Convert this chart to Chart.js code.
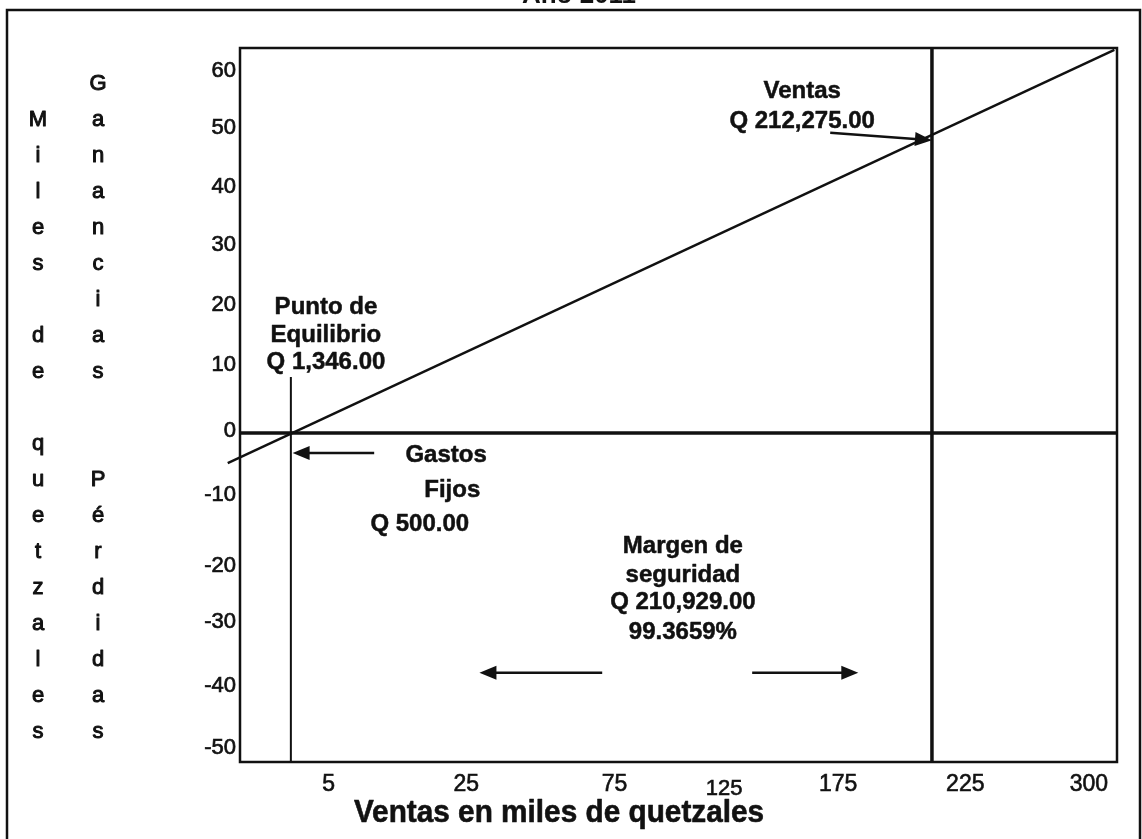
<!DOCTYPE html>
<html lang="es">
<head>
  <meta charset="UTF-8">
  <title>Punto de equilibrio</title>
  <script src="https://cdn.jsdelivr.net/npm/chart.js@4.4.1/dist/chart.umd.min.js"></script>
  <style>
    body { margin: 0; background: #fff; }
    #wrap { width: 1142px; height: 839px; }
  </style>
</head>
<body>
  <div id="wrap"><canvas id="peChart" width="1142" height="839"></canvas></div>

  <script>
    // eje X: etiquetas y su posicion en la escala (la escala del original no es lineal)
    const xTickLabels = ['5', '25', '75', '125', '175', '225', '300'];
    const xTickAt = [1.01, 2.58, 4.27, 5.52, 6.82, 8.27, 9.68];

    // eje Y (miles de quetzales): etiquetas y donde caen en el dibujo original
    const yTickLabels = ['60', '50', '40', '30', '20', '10', '0', '-10', '-20', '-30', '-40', '-50'];
    const yTickAt = [58.8, 49.6, 40.0, 30.6, 20.8, 11.1, 0.3, -10.1, -21.6, -30.7, -41.2, -51.2];

    // recta de ventas / ganancias
    const salesX = [-0.14, 9.97];
    const salesY = [-4.9, 62.3];

    // punto de equilibrio (Q 1,346.00) y ventas (Q 212,275.00)
    const breakEvenX = 0.58;
    const breakEvenTop = 9.1;
    const ventasX = 7.89;

    const yMin = -53.5, yMax = 62.6;

    // textos de las notas (x, y en unidades de los ejes)
    const notes = [
      { text: 'Punto de', x: 0.98, y: 20.5 },
      { text: 'Equilibrio', x: 0.98, y: 15.9 },
      { text: 'Q 1,346.00', x: 0.98, y: 11.4 },
      { text: 'Gastos', x: 2.35, y: -3.6 },
      { text: 'Fijos', x: 2.42, y: -9.3 },
      { text: 'Q 500.00', x: 2.05, y: -14.9 },
      { text: 'Ventas', x: 6.41, y: 55.6 },
      { text: 'Q 212,275.00', x: 6.41, y: 50.6 },
      { text: 'Margen de', x: 5.05, y: -18.4 },
      { text: 'seguridad', x: 5.05, y: -23.1 },
      { text: 'Q 210,929.00', x: 5.05, y: -27.6 },
      { text: '99.3659%', x: 5.05, y: -32.4 }
    ];

    // flechas: desde -> hasta
    const arrows = [
      { from: [1.53, -3.25], to: [0.60, -3.25] },
      { from: [6.73, 48.8], to: [7.89, 47.6] },
      { from: [4.13, -39.0], to: [2.73, -39.0] },
      { from: [5.84, -39.0], to: [7.05, -39.0] }
    ];

    const leftTitle = 'Miles de quetzales';
    const gainTitle = 'Ganancias';
    const lossTitle = 'Pérdidas';

    const INK = '#111';
    const SANS = '"Liberation Sans", Arial, sans-serif';

    function pts(xs, ys) {
      return xs.map((x, i) => ({ x: x, y: ys[i] }));
    }

    // texto algo mas grueso, como en la copia escaneada
    function inkText(ctx, t, x, y, w) {
      ctx.lineWidth = w;
      ctx.strokeText(t, x, y);
      ctx.fillText(t, x, y);
    }

    const decor = {
      id: 'decor',
      beforeDatasetsDraw(chart) {
        const ctx = chart.ctx, a = chart.chartArea;
        ctx.save();
        ctx.strokeStyle = INK;
        ctx.lineWidth = 2.5;
        ctx.strokeRect(7, 10, 1133, 900);
        ctx.strokeRect(a.left, a.top, a.right - a.left, a.bottom - a.top);
        ctx.restore();
      },
      afterDraw(chart) {
        const ctx = chart.ctx;
        const sx = chart.scales.x, sy = chart.scales.y;
        ctx.save();
        ctx.fillStyle = INK;
        ctx.strokeStyle = INK;
        ctx.lineJoin = 'round';
        ctx.textAlign = 'center';

        // titulo cortado arriba
        ctx.font = 'bold 26px ' + SANS;
        ctx.textBaseline = 'alphabetic';
        ctx.fillText('Año 2011', 579, 3);
        ctx.textBaseline = 'middle';

        // notas
        ctx.font = 'bold 24px ' + SANS;
        notes.forEach(n => {
          inkText(ctx, n.text, sx.getPixelForValue(n.x), sy.getPixelForValue(n.y), 0.5);
        });

        // flechas
        arrows.forEach(ar => {
          const x1 = sx.getPixelForValue(ar.from[0]), y1 = sy.getPixelForValue(ar.from[1]);
          const x2 = sx.getPixelForValue(ar.to[0]), y2 = sy.getPixelForValue(ar.to[1]);
          const ang = Math.atan2(y2 - y1, x2 - x1);
          const hl = 17, hw = 7;
          ctx.lineWidth = 2.5;
          ctx.beginPath();
          ctx.moveTo(x1, y1);
          ctx.lineTo(x2 - Math.cos(ang) * hl * 0.8, y2 - Math.sin(ang) * hl * 0.8);
          ctx.stroke();
          ctx.beginPath();
          ctx.moveTo(x2, y2);
          ctx.lineTo(x2 - Math.cos(ang) * hl - Math.sin(ang) * hw, y2 - Math.sin(ang) * hl + Math.cos(ang) * hw);
          ctx.lineTo(x2 - Math.cos(ang) * hl + Math.sin(ang) * hw, y2 - Math.sin(ang) * hl - Math.cos(ang) * hw);
          ctx.closePath();
          ctx.fill();
        });

        // titulos verticales del eje Y, letra por letra
        ctx.font = '22px ' + SANS;
        const row0 = 120, step = 36;
        leftTitle.split('').forEach((ch, i) => {
          if (ch !== ' ') inkText(ctx, ch, 38, row0 + i * step, 1);
        });
        gainTitle.split('').forEach((ch, i) => {
          inkText(ctx, ch, 98, row0 + (i - 1) * step, 1);
        });
        lossTitle.split('').forEach((ch, i) => {
          inkText(ctx, ch, 98, row0 + (i + 10) * step, 1);
        });

        // titulo eje X (letra algo estrecha)
        ctx.font = 'bold 32px ' + SANS;
        ctx.translate(559, 813);
        ctx.scale(0.93, 1);
        inkText(ctx, 'Ventas en miles de quetzales', 0, 0, 0.6);
        ctx.restore();
      }
    };

    new Chart(document.getElementById('peChart'), {
      type: 'scatter',
      data: {
        datasets: [
          {
            label: 'Ventas',
            data: pts(salesX, salesY),
            showLine: true,
            borderColor: INK,
            borderWidth: 2.5,
            pointRadius: 0,
            clip: false
          },
          {
            label: 'Cero',
            data: pts([0, 10], [0, 0]),
            showLine: true,
            borderColor: INK,
            borderWidth: 3.5,
            pointRadius: 0
          },
          {
            label: 'Punto de equilibrio',
            data: pts([breakEvenX, breakEvenX], [breakEvenTop, yMin]),
            showLine: true,
            borderColor: INK,
            borderWidth: 2,
            pointRadius: 0
          },
          {
            label: 'Ventas actuales',
            data: pts([ventasX, ventasX], [yMax, yMin]),
            showLine: true,
            borderColor: INK,
            borderWidth: 3.5,
            pointRadius: 0
          }
        ]
      },
      options: {
        responsive: false,
        animation: false,
        devicePixelRatio: 1,
        layout: { padding: { left: 0, top: 48, right: 25, bottom: 0 } },
        plugins: {
          legend: { display: false },
          tooltip: { enabled: false }
        },
        scales: {
          x: {
            type: 'linear',
            min: 0,
            max: 10,
            afterBuildTicks: s => { s.ticks = xTickAt.map(v => ({ value: v })); },
            afterFit: s => { s.height = 77; },
            grid: { display: false, drawTicks: false },
            border: { display: false },
            ticks: {
              autoSkip: false,
              maxRotation: 0,
              padding: 9,
              color: INK,
              textStrokeColor: INK,
              textStrokeWidth: 0.6,
              // el "125" del original esta un poco mas abajo
              font: ctx => (ctx.index === 3
                ? { family: SANS, size: 22, lineHeight: 1.6 }
                : { family: SANS, size: 23, lineHeight: 1.2 }),
              callback: (v, i) => xTickLabels[i]
            }
          },
          y: {
            type: 'linear',
            min: yMin,
            max: yMax,
            afterBuildTicks: s => { s.ticks = yTickAt.map(v => ({ value: v })); },
            afterFit: s => { s.width = 240; },
            grid: { display: false, drawTicks: false },
            border: { display: false },
            ticks: {
              padding: 4,
              color: INK,
              textStrokeColor: INK,
              textStrokeWidth: 0.7,
              font: { family: SANS, size: 22 },
              callback: (v, i) => yTickLabels[i]
            }
          }
        }
      },
      plugins: [decor]
    });
  </script>
</body>
</html>
